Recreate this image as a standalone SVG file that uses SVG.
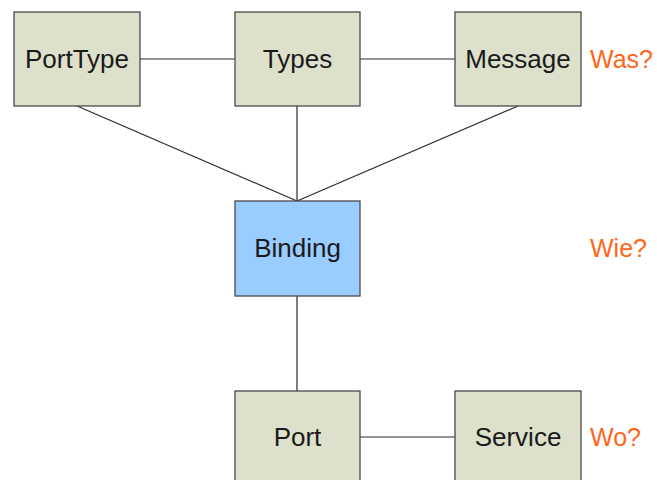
<svg xmlns="http://www.w3.org/2000/svg" width="657" height="480" viewBox="0 0 657 480">
  <style>
    .box { fill: #dde0cb; stroke: #4a4a4a; stroke-width: 1.3; }
    .bind { fill: #99ccff; stroke: #4a4a4a; stroke-width: 1.3; }
    .lbl { font-family: "Liberation Sans", Arial, sans-serif; font-size: 26px; fill: #1a1a1a; text-anchor: middle; dominant-baseline: central; }
    .q { font-family: "Liberation Sans", Arial, sans-serif; font-size: 25px; fill: #ff6619; dominant-baseline: central; }
    .edge { stroke: #2a2a2a; stroke-width: 1.2; fill: none; }
  </style>
  <rect width="657" height="480" fill="#ffffff"/>
  <g id="connectors">
    <line class="edge" x1="140" y1="59" x2="235" y2="59"/>
    <line class="edge" x1="360" y1="59" x2="455" y2="59"/>
    <line class="edge" x1="77" y1="106" x2="297" y2="201"/>
    <line class="edge" x1="297" y1="106" x2="297" y2="201"/>
    <line class="edge" x1="518" y1="106" x2="297" y2="201"/>
    <line class="edge" x1="297" y1="296" x2="297" y2="391"/>
    <line class="edge" x1="360" y1="437" x2="455" y2="437"/>
  </g>
  <g id="porttype">
    <rect class="box" x="14" y="12" width="126" height="94"/>
    <text class="lbl" x="77" y="59">PortType</text>
  </g>
  <g id="types">
    <rect class="box" x="235" y="12" width="125" height="94"/>
    <text class="lbl" x="297.5" y="59">Types</text>
  </g>
  <g id="message">
    <rect class="box" x="455" y="12" width="126" height="94"/>
    <text class="lbl" x="518" y="59">Message</text>
  </g>
  <g id="binding">
    <rect class="bind" x="235" y="201" width="125" height="95"/>
    <text class="lbl" x="297.5" y="248">Binding</text>
  </g>
  <g id="port">
    <rect class="box" x="235" y="391" width="125" height="95"/>
    <text class="lbl" x="297.5" y="437">Port</text>
  </g>
  <g id="service">
    <rect class="box" x="455" y="391" width="126" height="95"/>
    <text class="lbl" x="518" y="437">Service</text>
  </g>
  <g id="questions">
    <text class="q" x="590" y="59">Was?</text>
    <text class="q" x="590" y="248">Wie?</text>
    <text class="q" x="590" y="437">Wo?</text>
  </g>
</svg>
